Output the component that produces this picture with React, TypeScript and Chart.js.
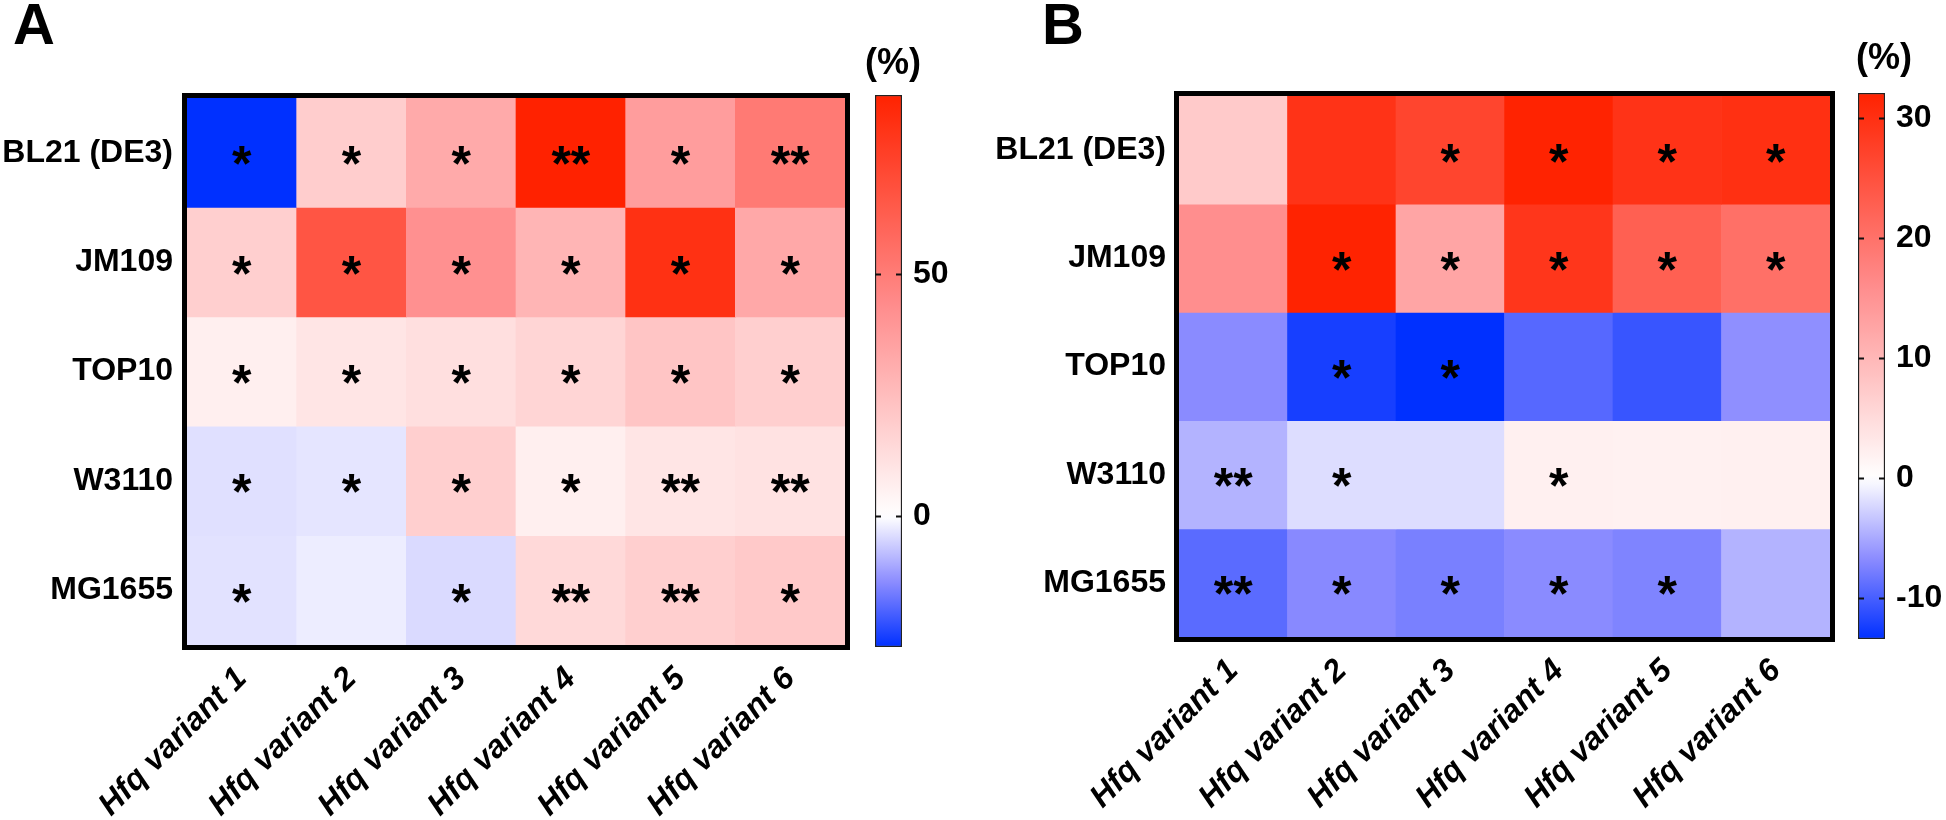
import React, { useEffect, useRef } from "react";
import { Chart, registerables } from "chart.js";

Chart.register(...registerables);

const FONT = '"Liberation Sans", Arial, Helvetica, sans-serif';

// ---------- categories ----------
const variants = ["Hfq variant 1", "Hfq variant 2", "Hfq variant 3", "Hfq variant 4", "Hfq variant 5", "Hfq variant 6"];
const strains = ["BL21 (DE3)", "JM109", "TOP10", "W3110", "MG1655"];

// ---------- panel A values (%) ----------
const aBL21 = [-27, 19, 32, 87, 37, 51];
const aJM109 = [18, 66, 42, 28, 81, 33];
const aTOP10 = [6, 10, 12, 16, 22, 18];
const aW3110 = [-3.6, -3, 18, 6, 10, 11];
const aMG1655 = [-3.4, -2.1, -4.4, 14.5, 18, 20.5];
const valuesA = [aBL21, aJM109, aTOP10, aW3110, aMG1655];
const starsA = [
  ["*", "*", "*", "**", "*", "**"],
  ["*", "*", "*", "*", "*", "*"],
  ["*", "*", "*", "*", "*", "*"],
  ["*", "*", "*", "*", "**", "**"],
  ["*", "", "*", "**", "**", "*"],
];
const colorRangeA = [-27, 87];
const colorTicksA = [0, 50];

// ---------- panel B values (%) ----------
const bBL21 = [7.4, 29.5, 26.8, 32, 29.5, 30];
const bJM109 = [15.8, 32, 12.6, 29, 22.7, 20.3];
const bTOP10 = [-6.8, -12.3, -13.4, -9.3, -10.7, -6.5];
const bW3110 = [-4.4, -2, -2, 2.1, 1.9, 2.1];
const bMG1655 = [-9.1, -6.9, -7.6, -6.8, -7.3, -4.4];
const valuesB = [bBL21, bJM109, bTOP10, bW3110, bMG1655];
const starsB = [
  ["", "", "*", "*", "*", "*"],
  ["", "*", "*", "*", "*", "*"],
  ["", "*", "*", "", "", ""],
  ["**", "*", "", "*", "", ""],
  ["**", "*", "*", "*", "*", ""],
];
const colorRangeB = [-13.4, 32.1];
const colorTicksB = [-10, 0, 10, 20, 30];

// ---------- colour scale ----------
const WHITE = [255, 255, 255];
const RED_MID = [255, 140, 140];
const RED = [255, 34, 0];
const BLUE_MID = [140, 140, 255];
const BLUE = [0, 48, 255];

function mix(a: number[], b: number[], t: number) {
  return a.map((v, i) => Math.round(v + (b[i] - v) * t));
}
function colorFor(v: number, min: number, max: number) {
  let c: number[];
  if (v >= 0) {
    const f = Math.min(1, v / max);
    c = f <= 0.5 ? mix(WHITE, RED_MID, f / 0.5) : mix(RED_MID, RED, (f - 0.5) / 0.5);
  } else {
    const f = Math.min(1, v / min);
    c = f <= 0.5 ? mix(WHITE, BLUE_MID, f / 0.5) : mix(BLUE_MID, BLUE, (f - 0.5) / 0.5);
  }
  return `rgb(${c[0]},${c[1]},${c[2]})`;
}

// ---------- plugins ----------
function starsPlugin(stars: string[][]) {
  return {
    id: "stars",
    afterDatasetsDraw(chart: any) {
      const { ctx } = chart;
      const xs = chart.scales.x;
      const ys = chart.scales.y;
      ctx.save();
      ctx.font = `bold 50px ${FONT}`;
      ctx.fillStyle = "#000";
      ctx.textAlign = "center";
      ctx.textBaseline = "alphabetic";
      const m = ctx.measureText("*");
      const asc = m.actualBoundingBoxAscent;
      const desc = m.actualBoundingBoxDescent;
      stars.forEach((row, i) => {
        row.forEach((s, j) => {
          if (!s) return;
          const cx = xs.getPixelForValue(j);
          const cy = ys.getPixelForValue(i + 0.5);
          const base = cy + 3 - (desc - asc) / 2;
          ctx.fillText(s, cx, base);
        });
      });
      ctx.restore();
    },
  };
}

const framePlugin = {
  id: "frame",
  afterDraw(chart: any) {
    const { ctx, chartArea: a } = chart;
    ctx.save();
    ctx.strokeStyle = "#000";
    ctx.lineWidth = 5;
    ctx.strokeRect(a.left - 2.5, a.top - 2.5, a.right - a.left + 5, a.bottom - a.top + 5);
    ctx.restore();
  },
};

function colorTickPlugin(ticks: number[]) {
  return {
    id: "cbticks",
    afterDatasetsDraw(chart: any) {
      const { ctx, chartArea: a } = chart;
      const ys = chart.scales.y;
      ctx.save();
      ctx.strokeStyle = "#111";
      ctx.lineWidth = 2;
      ticks.forEach((t) => {
        const y = Math.round(ys.getPixelForValue(t)) + 0.5;
        ctx.beginPath();
        ctx.moveTo(a.left, y);
        ctx.lineTo(a.left + 6, y);
        ctx.moveTo(a.right - 6, y);
        ctx.lineTo(a.right, y);
        ctx.stroke();
      });
      ctx.restore();
    },
  };
}

// ---------- configs ----------
type HeatParams = {
  values: number[][];
  stars: string[][];
  range: number[];
  axisW: number;
  axisH: number;
  padTop: number;
  padRight: number;
  yPad: number;
  xPad: number;
};

function heatmapConfig(p: HeatParams): any {
  const [min, max] = p.range;
  return {
    type: "bar",
    data: {
      labels: variants,
      datasets: strains.map((s, i) => ({
        label: s,
        data: variants.map(() => [i, i + 1]),
        backgroundColor: p.values[i].map((v) => colorFor(v, min, max)),
        borderWidth: 0,
        barPercentage: 1,
        categoryPercentage: 1,
        grouped: false,
      })),
    },
    options: {
      responsive: false,
      animation: false,
      devicePixelRatio: 1,
      layout: { padding: { top: p.padTop, right: p.padRight, left: 0, bottom: 0 } },
      plugins: { legend: { display: false }, tooltip: { enabled: false } },
      scales: {
        x: {
          type: "category",
          offset: true,
          grid: { display: false, drawTicks: false },
          border: { display: false },
          ticks: {
            color: "#000",
            font: { family: FONT, size: 32, weight: "bold", style: "italic" },
            minRotation: 45,
            maxRotation: 45,
            autoSkip: false,
            padding: p.xPad,
          },
          afterFit: (s: any) => {
            s.height = p.axisH;
            s.paddingLeft = 0;
            s.paddingRight = 0;
          },
        },
        y: {
          type: "linear",
          min: 0,
          max: strains.length,
          reverse: true,
          grid: { display: false, drawTicks: false },
          border: { display: false },
          afterBuildTicks: (s: any) => {
            s.ticks = strains.map((_, i) => ({ value: i + 0.5 }));
          },
          ticks: {
            color: "#000",
            font: { family: FONT, size: 32, weight: "bold" },
            padding: p.yPad,
            autoSkip: false,
            callback: (_v: any, idx: number) => strains[idx],
          },
          afterFit: (s: any) => {
            s.width = p.axisW;
            s.paddingTop = 0;
            s.paddingBottom = 0;
          },
        },
      },
    },
    plugins: [starsPlugin(p.stars), framePlugin],
  };
}

type BarParams = {
  range: number[];
  ticks: number[];
  padLeft: number;
  padTop: number;
  padBottom: number;
  axisW: number;
};

function colorbarConfig(p: BarParams): any {
  const [min, max] = p.range;
  return {
    type: "bar",
    data: {
      labels: [""],
      datasets: [
        {
          data: [[min, max]],
          backgroundColor: (ctx: any) => {
            const chart = ctx.chart;
            if (!chart.chartArea) return "transparent";
            const ys = chart.scales.y;
            const g = chart.ctx.createLinearGradient(0, ys.getPixelForValue(max), 0, ys.getPixelForValue(min));
            const N = 60;
            for (let k = 0; k <= N; k++) {
              const v = max - ((max - min) * k) / N;
              g.addColorStop(k / N, colorFor(v, min, max));
            }
            return g;
          },
          borderColor: "#222",
          borderWidth: 1.5,
          borderSkipped: false,
          barPercentage: 1,
          categoryPercentage: 1,
        },
      ],
    },
    options: {
      responsive: false,
      animation: false,
      devicePixelRatio: 1,
      layout: { padding: { left: p.padLeft, top: p.padTop, bottom: p.padBottom, right: 0 } },
      plugins: { legend: { display: false }, tooltip: { enabled: false } },
      scales: {
        x: { display: false },
        y: {
          type: "linear",
          position: "right",
          min,
          max,
          grid: { display: false, drawTicks: false },
          border: { display: false },
          afterBuildTicks: (s: any) => {
            s.ticks = p.ticks.map((v) => ({ value: v }));
          },
          ticks: {
            color: "#000",
            font: { family: FONT, size: 32, weight: "bold" },
            padding: 11,
            callback: (v: any) => String(v),
          },
          afterFit: (s: any) => {
            s.width = p.axisW;
            s.paddingTop = 0;
            s.paddingBottom = 0;
          },
        },
      },
    },
    plugins: [colorTickPlugin(p.ticks)],
  };
}

function ChartCanvas(props: { left: number; top: number; width: number; height: number; make: () => any }) {
  const ref = useRef<HTMLCanvasElement>(null);
  useEffect(() => {
    const chart = new Chart(ref.current as HTMLCanvasElement, props.make());
    return () => chart.destroy();
  }, []);
  return (
    <canvas
      ref={ref}
      width={props.width}
      height={props.height}
      style={{ position: "absolute", left: props.left, top: props.top, width: props.width, height: props.height }}
    />
  );
}

const textStyle = (left: number, top: number, size: number): React.CSSProperties => ({
  position: "absolute",
  left,
  top,
  fontFamily: FONT,
  fontWeight: "bold",
  fontSize: size,
  lineHeight: 1,
  color: "#000",
  whiteSpace: "nowrap",
});

export default function App() {
  useEffect(() => {
    document.body.style.margin = "0";
    document.body.style.overflow = "hidden";
  }, []);
  return (
    <div style={{ position: "absolute", left: 0, top: 0, width: 1946, height: 820, background: "#fff", overflow: "hidden" }}>
      <ChartCanvas
        left={0}
        top={0}
        width={860}
        height={820}
        make={() =>
          heatmapConfig({
            values: valuesA,
            stars: starsA,
            range: colorRangeA,
            axisW: 187,
            axisH: 175,
            padTop: 98,
            padRight: 15,
            yPad: 14,
            xPad: 15,
          })
        }
      />
      <ChartCanvas
        left={860}
        top={0}
        width={100}
        height={820}
        make={() => colorbarConfig({ range: colorRangeA, ticks: colorTicksA, padLeft: 15, padTop: 95, padBottom: 173, axisW: 58 })}
      />
      <ChartCanvas
        left={960}
        top={0}
        width={880}
        height={820}
        make={() =>
          heatmapConfig({
            values: valuesB,
            stars: starsB,
            range: colorRangeB,
            axisW: 219,
            axisH: 183,
            padTop: 96,
            padRight: 10,
            yPad: 13,
            xPad: 15,
          })
        }
      />
      <ChartCanvas
        left={1840}
        top={0}
        width={106}
        height={820}
        make={() => colorbarConfig({ range: colorRangeB, ticks: colorTicksB, padLeft: 18, padTop: 93, padBottom: 181, axisW: 61 })}
      />
      <div style={textStyle(13, -5, 58)}>A</div>
      <div style={textStyle(1042, -5, 58)}>B</div>
      <div style={textStyle(865, 44, 36)}>(%)</div>
      <div style={textStyle(1856, 39, 36)}>(%)</div>
    </div>
  );
}
